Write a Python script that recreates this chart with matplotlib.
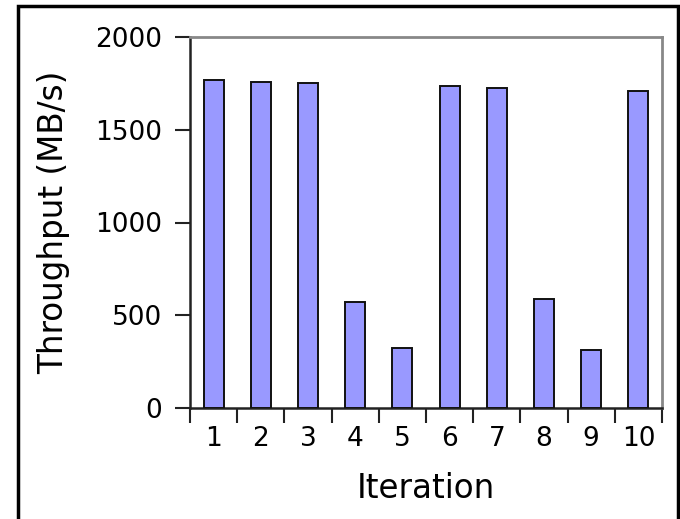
import matplotlib
matplotlib.use("Agg")
import matplotlib.pyplot as plt
from matplotlib.patches import Rectangle
import numpy as np

iterations = ["1", "2", "3", "4", "5", "6", "7", "8", "9", "10"]
throughput = [1768, 1759, 1752, 570, 322, 1734, 1723, 586, 311, 1709]
y_ticks = [0, 500, 1000, 1500, 2000]

W, H = 680, 519
fig = plt.figure(figsize=(W / 100, H / 100), dpi=100)
ax = fig.add_axes([190 / W, 1 - 408 / H, (662 - 190) / W, (408 - 37) / H])

x = np.arange(1, len(throughput) + 1)
ax.bar(x, throughput, width=0.42, color="#9999ff", edgecolor="#111111",
       linewidth=1.4, zorder=3)

ax.set_xlim(0.5, len(throughput) + 0.5)
ax.set_ylim(0, 2000)
ax.set_yticks(y_ticks)
ax.set_yticklabels([str(v) for v in y_ticks], fontsize=19)

# major ticks on the category boundaries, labels centred in each slot
ax.set_xticks(np.arange(0.5, len(throughput) + 1, 1.0))
ax.set_xticklabels([])
ax.set_xticks(x, minor=True)
ax.set_xticklabels(iterations, minor=True, fontsize=19)
ax.tick_params(axis="x", which="major", direction="out", length=11, width=1.5,
               color="#222222")
ax.tick_params(axis="x", which="minor", length=0, pad=13)
ax.tick_params(axis="y", direction="out", length=11, width=1.5,
               color="#222222", pad=9)

for side in ("left", "bottom"):
    ax.spines[side].set_color("#222222")
    ax.spines[side].set_linewidth(1.8)
for side in ("top", "right"):
    ax.spines[side].set_color("#888888")
    ax.spines[side].set_linewidth(2.0)

ax.set_xlabel("Iteration", fontsize=23.5, labelpad=14)
ax.set_ylabel("Throughput (MB/s)", fontsize=23.5, labelpad=18)

fig.patches.append(Rectangle((18 / W, -0.01), (678 - 18) / W, 1 - 6 / H + 0.01,
                             transform=fig.transFigure, fill=False,
                             edgecolor="black", linewidth=2.5))

fig.savefig("out.png", dpi=100)
